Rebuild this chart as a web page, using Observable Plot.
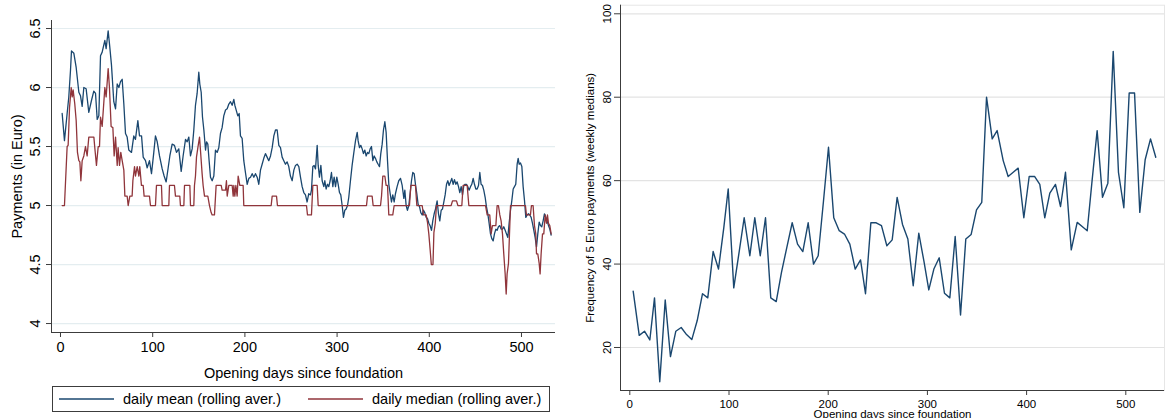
<!DOCTYPE html>
<html>
<head>
<meta charset="utf-8">
<script src="https://cdn.jsdelivr.net/npm/d3@7"></script>
<script src="https://cdn.jsdelivr.net/npm/@observablehq/plot@0.6"></script>
<style>
html, body { margin: 0; padding: 0; background: #fff; overflow: hidden; }
#wrap { position: relative; width: 1165px; height: 418px; overflow: hidden; font-family: "Liberation Sans", Arial, sans-serif; }
#left { position: absolute; left: 0; top: 0; }
#right { position: absolute; left: 580px; top: 0; }
#legend { position: absolute; left: 52px; top: 386px; width: 496px; height: 24px; border: 1px solid #3c3c3c; font-size: 14.5px; color: #000; }
#legend .item { position: absolute; top: 0; height: 24px; display: flex; align-items: center; white-space: nowrap; }
#legend svg { display: block; margin-right: 9px; }
</style>
</head>
<body>
<div id="wrap">
  <div id="left"></div>
  <div id="right"></div>
  <div id="legend"></div>
</div>
<script>
// ---------- Left panel: rolling averages of daily payments ----------
const meanDay = [1.8,4.3,7.2,9.0,10.8,11.9,14.5,17.0,19.9,21.7,23.5,25.3,27.8,30.7,33.6,36.1,38.0,39.8,41.6,43.4,45.2,48.1,49.5,51.7,53.5,55.3,57.8,59.7,61.5,63.3,65.1,66.9,68.7,70.5,72.3,74.1,77.0,79.5,81.3,83.9,85.7,87.9,89.7,92.2,94.0,96.5,98.7,101.2,103.0,104.9,107.4,110.3,112.4,114.6,116.8,118.6,121.1,123.6,125.8,128.3,130.9,133.0,135.6,
137.4,139.2,141.0,142.8,144.6,146.4,148.2,150.0,151.1,152.6,154.0,155.5,157.3,158.4,159.8,161.2,162.7,164.5,166.3,168.1,169.9,171.7,173.5,175.3,177.1,179.0,180.8,182.6,184.4,186.2,188.0,189.1,190.5,192.3,193.8,195.2,197.0,198.8,200.6,202.5,204.3,206.1,207.9,209.7,211.5,213.3,215.1,216.9,218.7,220.5,222.3,224.1,225.9,227.8,229.6,231.4,233.2,235.0,236.8,238.6,240.4,242.2,244.0,245.8,247.6,249.4,251.3,253.1,254.9,256.7,258.5,260.3,262.1,263.9,265.7,267.5,269.3,271.1,
272.2,273.7,275.1,276.6,278.4,279.5,280.9,282.4,283.8,285.6,286.7,288.1,289.6,291.0,292.5,293.9,295.4,296.8,298.3,299.7,301.2,302.6,304.0,305.5,306.9,308.4,309.8,311.3,312.7,314.5,316.3,318.2,320.0,321.8,322.8,324.3,325.7,327.2,328.6,330.1,331.5,333.0,334.4,335.9,337.3,338.8,340.2,341.6,343.1,344.5,346.0,347.4,348.9,350.3,351.8,353.2,354.7,356.1,357.6,359.0,360.4,361.9,363.3,365.1,366.9,368.8,370.6,372.4,373.5,374.9,376.3,377.8,379.2,380.7,382.1,383.6,385.0,386.5,387.9,389.4,390.8,392.3,393.7,395.1,396.6,398.0,399.5,400.9,402.4,403.8,405.3,406.7,
408.5,410.0,411.4,412.9,414.3,415.8,417.2,418.7,420.1,421.5,423.0,424.4,425.9,427.3,428.8,430.2,431.7,433.1,434.6,436.0,437.5,438.9,440.3,441.8,443.2,444.7,446.1,447.6,449.0,450.5,451.9,453.4,454.8,456.2,457.7,459.1,460.6,462.0,463.5,464.9,466.4,467.8,469.3,470.7,472.2,473.6,475.0,476.5,477.9,479.4,480.8,482.3,483.7,485.2,486.6,488.1,489.5,491.0,492.4,493.8,495.3,496.4,497.5,498.9,500.4,501.8,503.3,504.7,506.1,507.6,509.0,510.5,511.9,513.4,514.8,516.3,517.7,519.2,520.6,522.0,523.5,524.9,526.4,527.8,529.3,530.7,532.2];
const meanValue = [5.78,5.55,5.78,5.92,6.14,6.31,6.29,6.17,5.96,5.93,5.84,6.00,5.99,5.79,5.89,5.97,5.95,5.73,5.76,6.27,6.30,6.40,6.33,6.48,6.34,6.19,5.88,5.82,6.03,6.00,6.05,6.07,5.86,5.61,5.58,5.47,5.45,5.59,5.56,5.72,5.59,5.59,5.41,5.38,5.32,5.38,5.27,5.45,5.59,5.54,5.42,5.31,5.25,5.20,5.32,5.42,5.52,5.51,5.45,5.48,5.29,5.42,5.56,
5.54,5.58,5.42,5.48,5.64,5.85,5.95,6.13,6.03,5.96,5.75,5.64,5.47,5.54,5.52,5.38,5.24,5.21,5.25,5.47,5.45,5.49,5.61,5.66,5.76,5.81,5.82,5.86,5.88,5.85,5.90,5.85,5.81,5.76,5.78,5.59,5.57,5.38,5.28,5.18,5.23,5.24,5.27,5.24,5.27,5.24,5.18,5.30,5.35,5.40,5.44,5.41,5.38,5.42,5.49,5.59,5.64,5.64,5.51,5.49,5.41,5.38,5.35,5.37,5.33,5.25,5.21,5.30,5.34,5.35,5.33,5.24,5.16,5.11,5.09,5.03,5.10,5.09,
5.13,5.33,5.34,5.31,5.51,5.34,5.24,5.34,5.21,5.16,5.21,5.14,5.18,5.16,5.21,5.28,5.16,5.24,5.16,5.24,5.18,5.11,5.09,5.00,4.90,4.96,4.97,5.00,5.07,5.21,5.34,5.45,5.55,5.62,5.55,5.49,5.51,5.48,5.44,5.47,5.42,5.45,5.44,5.48,5.50,5.38,5.42,5.40,5.37,5.35,5.33,5.44,5.52,5.64,5.71,5.62,5.38,5.18,5.10,5.03,5.09,5.03,5.10,5.16,5.21,5.23,5.17,5.06,5.13,5.00,4.96,5.00,5.10,5.21,5.28,5.27,5.18,5.10,5.01,4.99,4.94,4.92,4.96,4.94,4.90,4.89,4.85,4.83,4.79,4.87,4.93,4.97,
5.04,4.93,4.87,4.96,4.97,5.03,5.09,5.18,5.21,5.17,5.20,5.23,5.18,5.22,5.18,5.20,5.16,5.11,5.16,5.09,5.17,5.18,5.18,5.16,5.13,5.16,5.18,5.23,5.18,5.14,5.14,5.17,5.28,5.18,5.17,5.13,5.07,4.99,4.93,4.85,4.76,4.72,4.70,4.76,4.80,4.79,4.82,4.83,4.80,4.80,4.82,4.79,4.76,4.73,4.85,4.96,5.04,5.14,5.16,5.18,5.35,5.40,5.35,5.36,5.33,5.16,5.04,4.90,4.92,4.93,4.92,4.90,4.85,4.79,4.73,4.65,4.76,4.86,4.83,4.82,4.87,4.93,4.90,4.87,4.83,4.80,4.75];

const medianDay = [1.8,4.3,7.2,8.3,9.8,11.6,12.7,13.7,15.5,17.0,18.4,19.9,21.0,22.1,23.5,25.3,27.1,28.9,30.7,36.2,37.2,39.0,40.9,42.3,43.4,45.2,48.1,49.5,51.7,53.1,54.9,56.8,58.2,59.7,61.5,62.5,64.0,65.4,66.9,68.7,69.8,72.3,73.4,75.2,77.7,78.5,80.3,81.3,83.2,85.0,86.0,87.8,89.7,90.7,96.5,97.6,103.0,104.1,109.5,110.3,117.5,118.2,123.6,124.7,129.4,130.1,133.8,134.5,140.3,141.0,144.6,145.3,146.4,147.5,149.0,150.8,151.8,153.6,154.7,156.2,159.8,161.6,163.4,164.5,167.0,168.8,174.3,175.3,179.0,180.0,180.8,182.6,186.2,187.3,188.0,189.1,190.2,191.6,192.7,194.5,198.1,198.8,228.5,229.6,234.3,235.3,266.8,267.9,272.2,273.7,278.4,279.5,331.9,333.0,338.0,339.1,347.1,348.2,349.6,351.8,353.2,354.7,356.1,360.4,361.9,378.5,380.0,385.0,386.5,392.3,393.7,396.6,398.0,399.5,401.0,402.2,404.0,405.0,406.5,407.8,423.7,425.2,429.5,431.0,435.3,436.7,441.1,442.9,461.0,462.8,465.6,467.1,468.5,472.2,473.6,475.0,476.5,477.9,479.4,480.8,482.3,483.4,484.4,485.9,487.0,488.1,504.3,505.4,509.7,510.8,512.6,514.1,515.5,516.3,517.7,519.2,520.2,521.3,522.8,524.2,525.7,527.1,528.2,529.3,530.7,532.2];
const medianValue = [5.00,5.00,5.50,5.51,5.83,6.00,5.92,5.98,5.86,5.72,5.45,5.38,5.37,5.21,5.38,5.42,5.50,5.42,5.58,5.58,5.49,5.34,5.50,5.50,5.75,5.67,6.00,5.92,6.16,6.00,5.67,5.66,5.42,5.58,5.34,5.49,5.34,5.45,5.38,5.30,5.08,5.08,5.00,5.08,5.08,5.21,5.33,5.25,5.33,5.25,5.33,5.17,5.17,5.08,5.08,5.00,5.00,5.17,5.17,5.00,5.00,5.17,5.17,5.08,5.08,5.00,5.00,5.17,5.17,5.00,5.00,5.17,5.25,5.41,5.49,5.58,5.47,5.27,5.17,5.08,5.08,5.00,4.94,4.92,4.92,5.17,5.17,5.13,5.13,5.21,5.08,5.17,5.17,5.08,5.17,5.08,5.17,5.08,5.25,5.17,5.17,5.00,5.00,5.08,5.08,5.00,5.00,4.92,4.92,5.17,5.17,5.00,5.00,5.08,5.08,5.00,5.00,5.08,5.25,5.25,5.17,5.17,4.92,4.92,5.00,5.00,5.17,5.17,5.00,5.00,4.92,4.92,4.86,4.76,4.62,4.50,4.50,4.77,4.85,5.00,5.00,5.04,5.04,5.00,5.00,5.17,5.17,5.00,5.00,4.92,4.92,4.76,4.83,4.83,5.00,5.00,4.92,4.87,4.76,4.59,4.42,4.25,4.42,4.51,4.76,5.00,5.00,4.92,4.92,5.00,5.00,4.83,4.76,4.59,4.59,4.51,4.42,4.59,4.76,4.76,4.92,4.85,4.92,4.85,4.83,4.76];

const leftYTicks = [4, 4.5, 5, 5.5, 6, 6.5];
const leftXTicks = [0, 100, 200, 300, 400, 500];
const seriesNames = ["daily mean (rolling aver.)", "daily median (rolling aver.)"];

// ---------- Right panel: weekly medians of 5 Euro payments ----------
const freqDay = [3.4,9.5,14.8,20.2,24.9,30.2,35.7,41.0,46.4,51.8,57.2,62.5,67.9,73.3,78.6,84.0,89.4,94.8,99.2,104.8,109.9,115.3,121.0,126.0,131.5,136.8,142.1,147.6,152.9,158.3,163.7,169.1,174.4,179.8,185.2,189.9,195.2,200.3,205.6,211.1,216.4,221.8,227.2,232.6,237.6,243.0,248.4,253.7,259.1,264.5,269.5,274.9,280.3,285.7,291.3,296.4,301.4,306.5,311.9,317.2,322.6,328.0,333.4,338.7,344.1,349.5,354.8,359.6,365.3,370.3,376.4,381.4,386.5,391.5,397.2,402.6,408.0,413.3,418.3,423.4,429.1,434.2,439.2,445.0,451.0,456.0,461.1,466.0,471.1,476.5,481.9,487.3,492.6,498.0,503.4,508.8,514.1,519.5,524.9,530.2];
const freqValue = [33.5,22.9,23.9,21.8,31.9,11.8,31.4,17.8,23.9,24.8,23.1,21.9,26.4,32.9,31.9,43.0,38.8,48.8,58.0,34.3,42.4,51.1,42.0,51.1,42.0,51.1,31.9,31.0,38.0,44.0,49.9,44.8,43.0,49.9,40.0,42.0,55.0,68.0,51.1,48.0,47.2,44.8,38.8,41.0,32.9,49.9,49.9,49.2,44.4,45.8,56.0,49.5,46.0,34.8,47.4,40.8,33.8,38.8,41.5,33.0,31.9,46.6,27.8,46.0,47.1,53.0,54.8,80.0,70.0,72.0,64.8,61.0,62.0,63.0,51.1,61.0,61.0,59.1,51.1,57.0,59.1,53.8,62.0,43.4,50.0,49.0,48.0,60.0,72.0,56.0,59.4,91.0,62.0,53.5,81.0,81.0,52.4,65.0,70.0,65.6];
const rightYTicks = [20, 40, 60, 80, 100];
const rightXTicks = [0, 100, 200, 300, 400, 500];

const NAVY = "#1a476f", MAROON = "#90353b";
const FONT = "'Liberation Sans', Arial, Helvetica, sans-serif";

const meanData = meanDay.map((d, i) => ({day: d, value: meanValue[i]}));
const medianData = medianDay.map((d, i) => ({day: d, value: medianValue[i]}));
const freqData = freqDay.map((d, i) => ({day: d, value: freqValue[i]}));

const LX = [-9.76, 536.9], LY = [3.924, 6.568];
const left = Plot.plot({
  width: 575, height: 380,
  marginLeft: 51, marginRight: 20, marginTop: 20, marginBottom: 48,
  style: {fontFamily: FONT, fontSize: "14.5px", color: "#000", background: "transparent", overflow: "visible"},
  x: {domain: LX},
  y: {domain: LY},
  marks: [
    Plot.gridY(leftYTicks, {stroke: "#e4edf0", strokeOpacity: 1, strokeWidth: 1.2}),
    Plot.line(meanData, {x: "day", y: "value", stroke: NAVY, strokeWidth: 1.3}),
    Plot.line(medianData, {x: "day", y: "value", stroke: MAROON, strokeWidth: 1.3}),
    Plot.ruleX([LX[0]], {stroke: "#3c3c3c", strokeWidth: 1}),
    Plot.ruleY([LY[0]], {stroke: "#3c3c3c", strokeWidth: 1}),
    Plot.axisY(leftYTicks, {tickSize: 5, tickRotate: -90, tickPadding: 7, stroke: "#3c3c3c", tickFormat: d => `${d}`,
      label: "Payments (in Euro)", labelAnchor: "center", labelArrow: "none", labelOffset: 40}),
    Plot.axisX(leftXTicks, {tickSize: 5, tickPadding: 4, stroke: "#3c3c3c", tickFormat: d => `${d}`,
      label: "Opening days since foundation", labelAnchor: "center", labelArrow: "none", labelOffset: 45})
  ]
});
document.getElementById("left").appendChild(left);

const RX = [-9.375, 539.0], RY = [9.69, 102.06];
const right = Plot.plot({
  width: 585, height: 440,
  marginLeft: 40, marginRight: 1, marginTop: 4.7, marginBottom: 50,
  style: {fontFamily: FONT, fontSize: "11.5px", color: "#000", background: "transparent", overflow: "visible"},
  x: {domain: RX},
  y: {domain: RY},
  marks: [
    Plot.frame({stroke: "#e6e6e6", strokeWidth: 1}),
    Plot.gridY(rightYTicks, {stroke: "#e3e3e3", strokeOpacity: 1, strokeWidth: 1.2}),
    Plot.line(freqData, {x: "day", y: "value", stroke: NAVY, strokeWidth: 1.4}),
    Plot.ruleX([RX[0]], {stroke: "#3c3c3c", strokeWidth: 1}),
    Plot.ruleY([RY[0]], {stroke: "#3c3c3c", strokeWidth: 1}),
    Plot.axisY(rightYTicks, {tickSize: 6, tickRotate: -90, tickPadding: 4, stroke: "#3c3c3c", tickFormat: d => `${d}`,
      label: "Frequency of 5 Euro payments (weekly medians)", labelAnchor: "center", labelArrow: "none", labelOffset: 35}),
    Plot.axisX(rightXTicks, {tickSize: 5, tickPadding: 4, stroke: "#3c3c3c", tickFormat: d => `${d}`,
      label: "Opening days since foundation", labelAnchor: "center", labelArrow: "none", labelOffset: 27})
  ]
});
document.getElementById("right").appendChild(right);

// Legend for the left panel
const legend = document.getElementById("legend");
const items = [{name: seriesNames[0], color: NAVY, left: 6}, {name: seriesNames[1], color: MAROON, left: 255}];
for (const it of items) {
  const div = document.createElement("div");
  div.className = "item";
  div.style.left = it.left + "px";
  div.innerHTML = `<svg width="55" height="4"><line x1="0" x2="55" y1="2" y2="2" stroke="${it.color}" stroke-width="1.3"/></svg><span>${it.name}</span>`;
  legend.appendChild(div);
}
</script>
</body>
</html>
